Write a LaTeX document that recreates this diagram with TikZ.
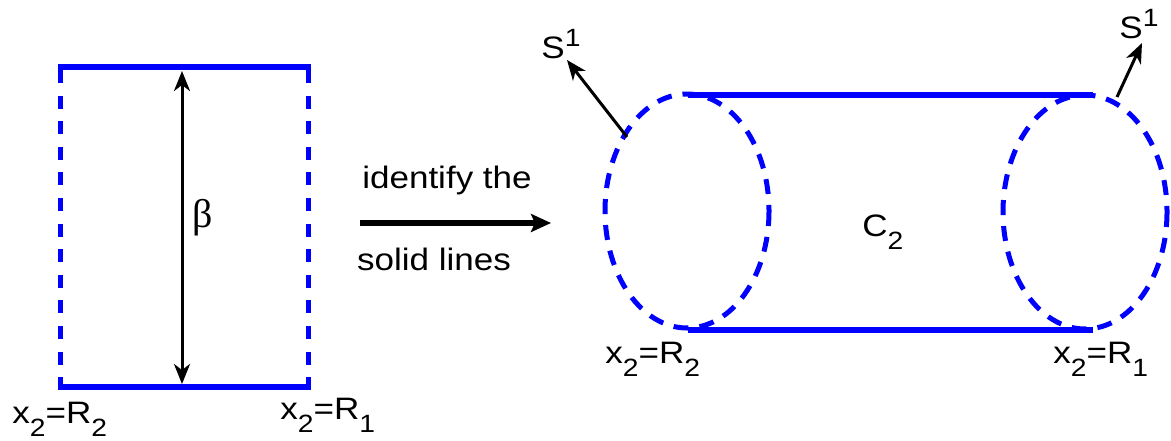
\documentclass[tikz,border=0pt]{standalone}
\usepackage{fontspec}
\usepackage{graphicx}
\setmainfont{Liberation Sans}
\newfontfamily\grk{Liberation Serif}
\usetikzlibrary{arrows.meta}
\definecolor{lineblue}{RGB}{0,0,255}
\newcommand\wtx[1]{\scalebox{1.13}[1]{#1}}
\newcommand\lsub[1]{\raisebox{-6.5pt}{\fontsize{12.5}{12}\selectfont #1}}
\newcommand\lsup[1]{\raisebox{6pt}{\fontsize{12.5}{12}\selectfont #1}}
\begin{document}
\begin{tikzpicture}[x=0.5pt,y=-0.5pt,
  solidblue/.style={draw=lineblue,line width=2.75pt},
  dashblue/.style={draw=lineblue,line width=2.5pt,dash pattern=on 6.5pt off 6.3pt},
  dashell/.style={draw=lineblue,line width=2.5pt,dash pattern=on 7.5pt off 5.5pt},
  thinarrow/.style={draw=black,line width=1.5pt,-{Stealth[length=10pt,width=8pt,inset=3pt]}},
  dblarrow/.style={draw=black,line width=1.5pt,{Stealth[length=10pt,width=8pt,inset=3pt]}-{Stealth[length=10pt,width=8pt,inset=3pt]}},
  bigarrow/.style={draw=black,line width=3pt,-{Stealth[length=10pt,width=9pt,inset=2pt]}},
  lbl/.style={inner sep=0pt,anchor=base west,font=\fontsize{15.5}{18}\selectfont},
  gk/.style={inner sep=0pt,anchor=base west,font=\grk\fontsize{20}{22}\selectfont}]
\useasboundingbox (0,0) rectangle (1171,440);

% left rectangle
\coordinate (tl) at (58,67);
\coordinate (tr) at (311,67);
\coordinate (bl) at (58,387);
\coordinate (br) at (311,387);
\coordinate (ltop) at (60,70);
\coordinate (lbot) at (60,385);
\coordinate (rtop) at (308,70);
\coordinate (rbot) at (308,385);
\draw[solidblue] (tl) -- (tr);
\draw[solidblue] (bl) -- (br);
\draw[dashblue] (ltop) -- (lbot);
\draw[dashblue] (rtop) -- (rbot);
\coordinate (bt) at (182,71);
\coordinate (bb) at (182,384);
\draw[dblarrow] (bb) -- (bt);
\node[gk] (beta) at (192,227) {β};
\node[lbl] (lR2) at (12,423) {\wtx{x\lsub{2}=R\lsub{2}}};
\node[lbl] (lR1) at (280,419) {\wtx{x\lsub{2}=R\lsub{1}}};

% middle arrow
\node[lbl,anchor=base] (t1) at (447,188) {\wtx{identify the}};
\node[lbl,anchor=base] (t2) at (434,270) {\wtx{solid lines}};
\coordinate (as) at (360,223);
\coordinate (ae) at (551,223);
\draw[bigarrow] (as) -- (ae);

% cylinder
\draw[dashell] (687,211) ellipse [x radius=82, y radius=117];
\draw[dashell] (1085,212) ellipse [x radius=82, y radius=117];
\coordinate (ct1) at (688,95);
\coordinate (ct2) at (1093,95);
\coordinate (cb1) at (688,330);
\coordinate (cb2) at (1093,330);
\draw[solidblue] (ct1) -- (ct2);
\draw[solidblue] (cb1) -- (cb2);

% S1 arrows
\coordinate (s1a) at (627,137);
\coordinate (s1b) at (567,60);
\draw[thinarrow] (s1a) -- (s1b);
\node[lbl] (S1l) at (541,58) {\wtx{S\lsup{1}}};
\coordinate (s2a) at (1117,97);
\coordinate (s2b) at (1142,43);
\draw[thinarrow] (s2a) -- (s2b);
\node[lbl] (S1r) at (1119,38) {\wtx{S\lsup{1}}};

\node[lbl] (C2) at (862,236) {\wtx{C\lsub{2}}};
\node[lbl] (rR2) at (605,363) {\wtx{x\lsub{2}=R\lsub{2}}};
\node[lbl] (rR1) at (1053,363) {\wtx{x\lsub{2}=R\lsub{1}}};
\end{tikzpicture}
\end{document}
